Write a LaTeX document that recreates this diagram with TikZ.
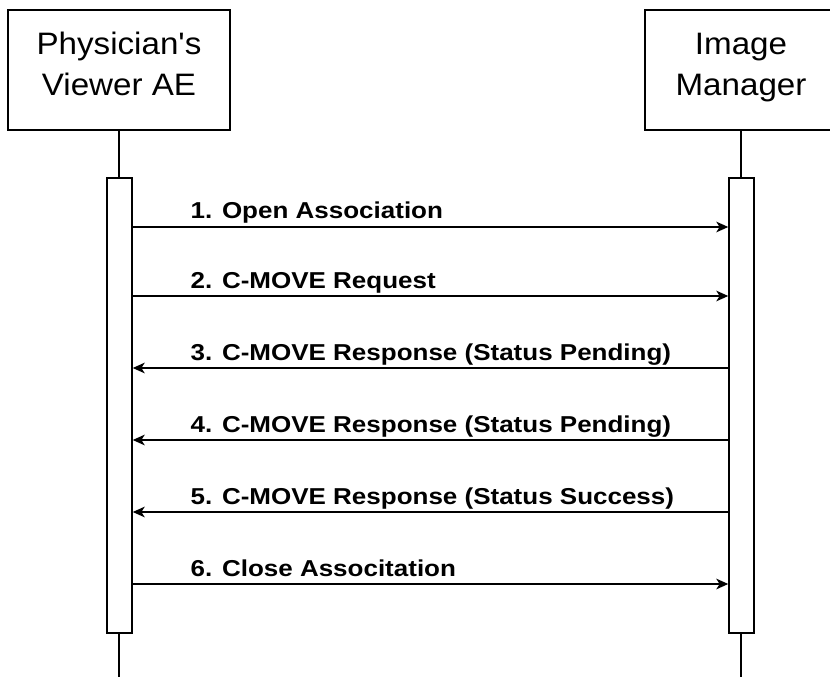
\documentclass[tikz,border=0pt]{standalone}
\usepackage{fontspec}
\setmainfont{Liberation Sans}
\newfontfamily\boxfont[FakeStretch=1.07]{Liberation Sans}
\newfontfamily\msgfont[FakeStretch=1.13]{Liberation Sans}
\usetikzlibrary{arrows.meta}

\begin{document}
\begin{tikzpicture}[x=0.75pt, y=-0.75pt, line width=1.1pt,
  actor/.style = {rectangle, outer sep=0pt, minimum height=90pt, align=center, text depth=8.6pt,
                  font=\boxfont\fontsize{23.25pt}{30.75pt}\selectfont},
  bar/.style = {draw, fill=white, rectangle, inner sep=0pt,
                minimum width=18.75pt, minimum height=341.25pt},
  msg/.style = {-{Stealth[length=9pt,width=8pt,inset=2.5pt]}},
  msglabel/.style = {anchor=base west, inner sep=0pt,
                     font=\msgfont\bfseries\fontsize{17.25pt}{20pt}\selectfont}
]
\useasboundingbox (0,0) rectangle (830,677);
\node[actor, draw, minimum width=166.5pt] (viewer) at (119,70) {Physician's\\Viewer AE};
\node[actor, minimum width=144pt] (manager) at (741,70) {Image\\Manager};
% manager box runs off the right edge
\draw (manager.north east) -- (manager.north west) -- (manager.south west) -- (manager.south east);
\coordinate (bottom) at (0,677);
% lifelines
\draw (viewer.south) -- (viewer.south |- bottom);
\draw (manager.south) -- (manager.south |- bottom);
\node[bar] (vbar) at (119.5,405.5) {};
\node[bar] (mbar) at (741.5,405.5) {};
% messages
\coordinate (m1) at (0,227);
\coordinate (m2) at (0,296);
\coordinate (m3) at (0,368);
\coordinate (m4) at (0,440);
\coordinate (m5) at (0,512);
\coordinate (m6) at (0,584);
\draw[msg] (vbar.east |- m1) -- (mbar.west |- m1);
\draw[msg] (vbar.east |- m2) -- (mbar.west |- m2);
\draw[msg] (mbar.west |- m3) -- (vbar.east |- m3);
\draw[msg] (mbar.west |- m4) -- (vbar.east |- m4);
\draw[msg] (mbar.west |- m5) -- (vbar.east |- m5);
\draw[msg] (vbar.east |- m6) -- (mbar.west |- m6);
\node[msglabel] (t1) at (190,219) {1. Open Association};
\node[msglabel] (t2) at (190,288) {2. C-MOVE Request};
\node[msglabel] (t3) at (190,360) {3. C-MOVE Response (Status Pending)};
\node[msglabel] (t4) at (190,432) {4. C-MOVE Response (Status Pending)};
\node[msglabel] (t5) at (190,504) {5. C-MOVE Response (Status Success)};
\node[msglabel] (t6) at (190,576) {6. Close Associtation};
\end{tikzpicture}
\end{document}
